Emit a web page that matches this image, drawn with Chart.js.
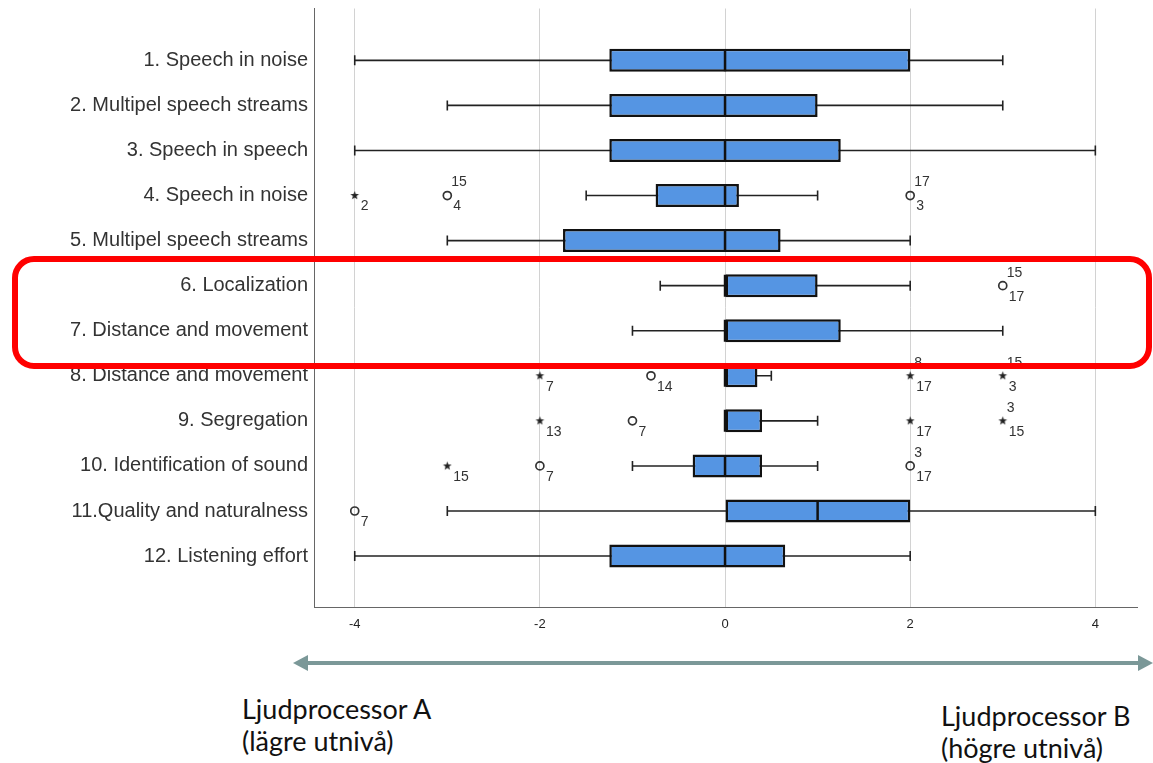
<!doctype html>
<html>
<head>
    <title>Boxplot</title>
    <meta charset="UTF-8">
    <script src="https://cdn.jsdelivr.net/npm/chart.js@4.4.0/dist/chart.umd.min.js"></script>
    <style>
        body {
            margin: 0;
            background: #fff;
            width: 1153px;
            height: 763px;
            overflow: hidden;
            position: relative;
        }
        #canvas-holder {
            position: absolute;
            left: 0;
            top: -5px;
            width: 1153px;
            height: 645px;
        }
        #frame {
            position: absolute;
            left: 12px;
            top: 256px;
            width: 1140px;
            height: 113px;
            box-sizing: border-box;
            border: 6px solid #ff0000;
            border-radius: 22px;
        }
        #arrow {
            position: absolute;
            left: 0;
            top: 640px;
        }
        .side {
            position: absolute;
            font-family: Lato, "Open Sans", sans-serif;
            font-size: 27px;
            line-height: 32px;
            color: #111;
        }
    </style>
</head>
<body>
<div id="canvas-holder">
    <canvas id="chart-area"></canvas>
</div>
<div id="frame"></div>
<svg id="arrow" width="1153" height="50">
    <line x1="300" y1="23" x2="1146" y2="23" stroke="#7b9898" stroke-width="4"/>
    <polygon points="293,23 308,15 308,31" fill="#7b9898"/>
    <polygon points="1153,23 1138,15 1138,31" fill="#7b9898"/>
</svg>
<div class="side" style="left:242px; top:693px;">Ljudprocessor A<br>(lägre utnivå)</div>
<div class="side" style="left:941px; top:700px;">Ljudprocessor B<br>(högre utnivå)</div>

<script>
    // kategorier (rad 1..12)
    var categories = [
        '1. Speech in noise',
        '2. Multipel speech streams',
        '3. Speech in speech',
        '4. Speech in noise',
        '5. Multipel speech streams',
        '6. Localization',
        '7. Distance and movement',
        '8. Distance and movement',
        '9. Segregation',
        '10. Identification of sound',
        '11.Quality and naturalness',
        '12. Listening effort'
    ];
    var rows = [1, 2, 3, 4, 5, 6, 7, 8, 9, 10, 11, 12];

    // boxplot values
    var lowWhisker  = [-4, -3, -4, -1.5, -3, -0.7, -1, 0, 0, -1, -3, -4];
    var q1          = [-1.25, -1.25, -1.25, -0.75, -1.75, 0, 0, 0, 0, -0.35, 0, -1.25];
    var medians     = [0, 0, 0, 0, 0, 0, 0, 0, 0, 0, 1, 0];
    var q3          = [2, 1, 1.25, 0.15, 0.6, 1, 1.25, 0.35, 0.4, 0.4, 2, 0.65];
    var highWhisker = [3, 3, 4, 1, 2, 2, 3, 0.5, 1, 1, 4, 2];

    // outliers: rad, värde, extrem (stjärna), etiketter
    var outlierRow     = [4, 4, 4, 6, 8, 8, 8, 8, 9, 9, 9, 9, 10, 10, 10, 11];
    var outlierValue   = [-4, -3, 2, 3, -2, -0.8, 2, 3, -2, -1, 2, 3, -3, -2, 2, -4];
    var outlierExtreme = [1, 0, 0, 0, 1, 0, 1, 1, 1, 0, 1, 1, 1, 0, 0, 0];
    var outlierTop     = ['', '15', '17', '15', '', '', '8', '15', '', '', '', '3', '', '', '3', ''];
    var outlierBottom  = ['2', '4', '3', '17', '7', '14', '17', '3', '13', '7', '17', '15', '15', '7', '17', '7'];

    var xTicks = [-4, -2, 0, 2, 4];

    Chart.defaults.font.family = '"Liberation Sans", Arial, sans-serif';
    Chart.defaults.color = '#333';

    // liten fylld stjärna som punktstil
    var starImg = document.createElement('canvas');
    starImg.width = 11;
    starImg.height = 11;
    (function () {
        var c = starImg.getContext('2d');
        c.fillStyle = '#222';
        c.beginPath();
        for (var k = 0; k < 10; k++) {
            var r = k % 2 === 0 ? 4.6 : 1.9;
            var a = -Math.PI / 2 + k * Math.PI / 5;
            var px = 5.5 + r * Math.cos(a), py = 5.5 + r * Math.sin(a);
            if (k === 0) c.moveTo(px, py); else c.lineTo(px, py);
        }
        c.closePath();
        c.fill();
    })();

    function pts(values) {
        return rows.map(function (r, i) { return {x: values[i], y: r}; });
    }

    function outlierSet(extreme) {
        var set = {data: [], tops: [], bottoms: []};
        for (var i = 0; i < outlierRow.length; i++) {
            if (outlierExtreme[i] !== extreme) continue;
            set.data.push({x: outlierValue[i], y: outlierRow[i]});
            set.tops.push(outlierTop[i]);
            set.bottoms.push(outlierBottom[i]);
        }
        return set;
    }
    var circles = outlierSet(0);
    var stars = outlierSet(1);

    var outlierLabels = {
        id: 'outlierLabels',
        afterDatasetsDraw: function (chart) {
            var ctx = chart.ctx;
            ctx.save();
            ctx.font = '14px "Liberation Sans", Arial, sans-serif';
            ctx.fillStyle = '#333';
            ctx.textBaseline = 'middle';
            chart.data.datasets.forEach(function (ds, i) {
                if (!ds.tops) return;
                chart.getDatasetMeta(i).data.forEach(function (pt, j) {
                    if (ds.tops[j]) ctx.fillText(ds.tops[j], pt.x + 4, pt.y - 13);
                    if (ds.bottoms[j]) ctx.fillText(ds.bottoms[j], pt.x + 6, pt.y + 11);
                });
            });
            ctx.restore();
        }
    };

    var config = {
        type: 'bar',
        data: {
            datasets: [
                {
                    label: 'whisker',
                    data: rows.map(function (r, i) { return {x: [lowWhisker[i], highWhisker[i]], y: r}; }),
                    backgroundColor: '#222',
                    borderWidth: 0,
                    grouped: false,
                    maxBarThickness: 1.6,
                    order: 4
                },
                {
                    label: 'box',
                    data: rows.map(function (r, i) { return {x: [q1[i], q3[i]], y: r}; }),
                    backgroundColor: '#5595e3',
                    borderColor: '#111',
                    borderWidth: 2.5,
                    borderSkipped: false,
                    grouped: false,
                    maxBarThickness: 23,
                    order: 3
                },
                {
                    type: 'scatter',
                    label: 'median',
                    data: pts(medians),
                    pointStyle: 'line',
                    rotation: 90,
                    pointRadius: 11,
                    borderColor: '#111',
                    borderWidth: 2.5,
                    order: 2
                },
                {
                    type: 'scatter',
                    label: 'caps',
                    data: pts(lowWhisker).concat(pts(highWhisker)),
                    pointStyle: 'line',
                    rotation: 90,
                    pointRadius: 5,
                    borderColor: '#222',
                    borderWidth: 1.6,
                    order: 5
                },
                {
                    type: 'scatter',
                    label: 'outliers',
                    data: circles.data,
                    tops: circles.tops,
                    bottoms: circles.bottoms,
                    pointStyle: 'circle',
                    pointRadius: 4,
                    backgroundColor: 'rgba(255,255,255,0)',
                    borderColor: '#333',
                    borderWidth: 1.7,
                    order: 1
                },
                {
                    type: 'scatter',
                    label: 'extremes',
                    data: stars.data,
                    tops: stars.tops,
                    bottoms: stars.bottoms,
                    pointStyle: starImg,
                    order: 1
                }
            ]
        },
        options: {
            indexAxis: 'y',
            responsive: true,
            maintainAspectRatio: false,
            animation: false,
            layout: {
                padding: {left: 0, right: 16, top: 3, bottom: 0}
            },
            plugins: {
                legend: {display: false},
                tooltip: {enabled: false},
                title: {display: false}
            },
            scales: {
                x: {
                    type: 'linear',
                    min: -4.44,
                    max: 4.45,
                    offset: false,
                    afterBuildTicks: function (scale) {
                        scale.ticks = xTicks.map(function (v) { return {value: v}; });
                    },
                    afterFit: function (scale) {
                        scale.height = 33;
                        scale.paddingLeft = 0;
                        scale.paddingRight = 0;
                    },
                    grid: {
                        color: '#d2d2d2',
                        drawTicks: false,
                        offset: false
                    },
                    border: {color: '#666', width: 1},
                    ticks: {
                        padding: 10,
                        color: '#222',
                        font: {size: 13}
                    }
                },
                y: {
                    type: 'linear',
                    reverse: true,
                    offset: false,
                    min: -0.15,
                    max: 13.13,
                    afterBuildTicks: function (scale) {
                        scale.ticks = rows.map(function (v) { return {value: v}; });
                    },
                    afterFit: function (scale) {
                        scale.width = 314;
                        scale.paddingTop = 0;
                        scale.paddingBottom = 0;
                    },
                    grid: {display: false, drawTicks: false, offset: false},
                    border: {color: '#666', width: 1},
                    ticks: {
                        autoSkip: false,
                        padding: 6,
                        color: '#333',
                        font: {size: 20},
                        callback: function (value, index) { return categories[index]; }
                    }
                }
            }
        },
        plugins: [outlierLabels]
    };

    var ctx = document.getElementById('chart-area').getContext('2d');
    window.myBoxplot = new Chart(ctx, config);
</script>
</body>
</html>
